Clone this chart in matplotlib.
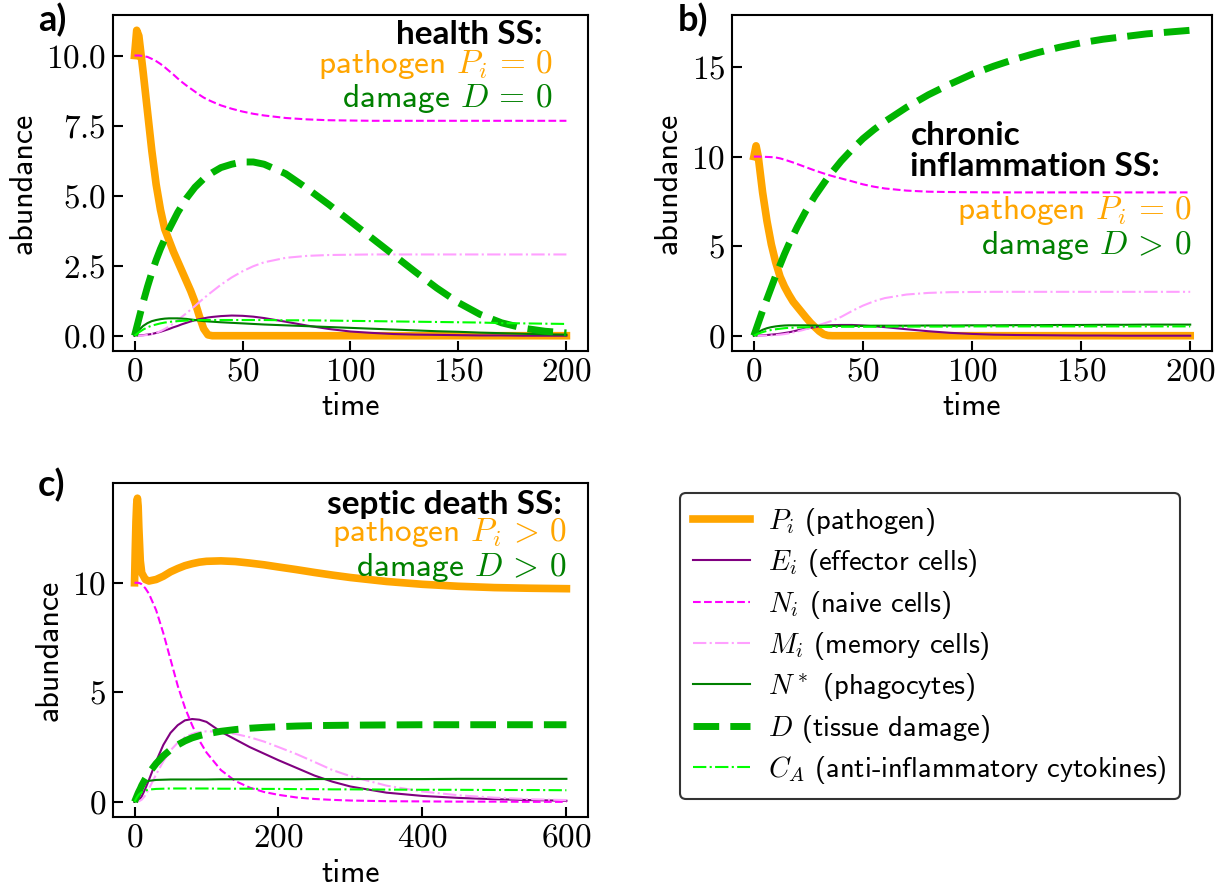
import matplotlib
matplotlib.use("Agg")
import matplotlib.pyplot as plt
from matplotlib.ticker import FuncFormatter

plt.rcParams['font.family'] = ['cmss10', 'DejaVu Sans']
plt.rcParams['mathtext.fontset'] = 'cm'
plt.rcParams['axes.unicode_minus'] = False

# ---------------- panel a: health steady state ----------------
t_a = [0, 1, 2, 4, 6, 8, 10, 12, 14, 16, 18, 20, 22, 24, 26, 28, 30, 32, 34, 36,
       40, 45, 50, 55, 60, 70, 80, 90, 100, 110, 120, 130, 140, 150, 160, 170, 180, 190, 200]
P_a = [10, 10.9, 10.7, 9.4, 8.0, 6.6, 5.4, 4.5, 3.8, 3.4, 3.0, 2.65, 2.3, 1.95, 1.6, 1.2, 0.7, 0.25, 0.03, 0,
       0, 0, 0, 0, 0, 0, 0, 0, 0, 0, 0, 0, 0, 0, 0, 0, 0, 0, 0]
E_a = [0, 0, 0.01, 0.02, 0.04, 0.06, 0.1, 0.14, 0.19, 0.24, 0.3, 0.35, 0.41, 0.46, 0.51, 0.55, 0.59, 0.62, 0.65, 0.67,
       0.7, 0.72, 0.71, 0.68, 0.63, 0.5, 0.36, 0.24, 0.15, 0.1, 0.06, 0.04, 0.03, 0.02, 0.01, 0.01, 0, 0, 0]
N_a = [10, 10, 10, 9.98, 9.95, 9.88, 9.8, 9.7, 9.58, 9.45, 9.32, 9.18, 9.05, 8.93, 8.82, 8.71, 8.6, 8.5, 8.42, 8.35,
       8.22, 8.1, 8.0, 7.92, 7.86, 7.77, 7.72, 7.69, 7.68, 7.67, 7.67, 7.67, 7.67, 7.67, 7.67, 7.67, 7.67, 7.67, 7.67]
M_a = [0, 0, 0, 0.01, 0.03, 0.06, 0.1, 0.16, 0.24, 0.33, 0.44, 0.55, 0.68, 0.8, 0.93, 1.06, 1.2, 1.33, 1.46, 1.58,
       1.82, 2.08, 2.3, 2.48, 2.62, 2.78, 2.85, 2.88, 2.89, 2.9, 2.9, 2.9, 2.9, 2.9, 2.9, 2.9, 2.9, 2.9, 2.9]
Nstar_a = [0, 0.1, 0.2, 0.35, 0.45, 0.52, 0.56, 0.59, 0.61, 0.62, 0.62, 0.62, 0.61, 0.6, 0.58, 0.56, 0.54, 0.52, 0.51, 0.5,
           0.48, 0.46, 0.44, 0.42, 0.4, 0.37, 0.34, 0.31, 0.28, 0.25, 0.22, 0.19, 0.16, 0.14, 0.11, 0.09, 0.07, 0.05, 0.04]
D_a = [0, 0.3, 0.6, 1.2, 1.75, 2.25, 2.7, 3.1, 3.45, 3.8, 4.1, 4.4, 4.65, 4.9, 5.1, 5.3, 5.45, 5.6, 5.72, 5.82,
       6.0, 6.12, 6.2, 6.2, 6.12, 5.78, 5.25, 4.68, 4.08, 3.48, 2.88, 2.28, 1.7, 1.18, 0.76, 0.46, 0.27, 0.16, 0.1]
CA_a = [0, 0.06, 0.12, 0.22, 0.3, 0.36, 0.4, 0.44, 0.47, 0.49, 0.51, 0.52, 0.53, 0.54, 0.55, 0.55, 0.56, 0.56, 0.56, 0.56,
        0.56, 0.56, 0.56, 0.56, 0.56, 0.55, 0.55, 0.54, 0.53, 0.52, 0.51, 0.5, 0.49, 0.48, 0.47, 0.45, 0.44, 0.43, 0.42]

# ---------------- panel b: chronic inflammation ----------------
t_b = t_a
P_b = [10, 10.6, 10.0, 8.0, 6.4, 5.1, 4.1, 3.3, 2.75, 2.3, 1.9, 1.6, 1.3, 1.0, 0.72, 0.48, 0.25, 0.08, 0.01, 0,
       0, 0, 0, 0, 0, 0, 0, 0, 0, 0, 0, 0, 0, 0, 0, 0, 0, 0, 0]
E_b = [0, 0, 0.01, 0.02, 0.04, 0.06, 0.08, 0.11, 0.15, 0.19, 0.24, 0.3, 0.35, 0.4, 0.44, 0.48, 0.52, 0.55, 0.57, 0.59,
       0.6, 0.6, 0.57, 0.53, 0.48, 0.36, 0.25, 0.16, 0.1, 0.06, 0.04, 0.03, 0.02, 0.01, 0.01, 0, 0, 0, 0]
N_b = [10, 10, 10, 9.99, 9.98, 9.97, 9.95, 9.9, 9.83, 9.75, 9.67, 9.58, 9.49, 9.4, 9.31, 9.22, 9.14, 9.06, 8.98, 8.91,
       8.78, 8.62, 8.45, 8.32, 8.22, 8.1, 8.04, 8.02, 8.01, 8.0, 8.0, 8.0, 8.0, 8.0, 8.0, 8.0, 8.0, 8.0, 8.0]
M_b = [0, 0, 0, 0, 0.01, 0.02, 0.04, 0.06, 0.09, 0.13, 0.18, 0.24, 0.3, 0.37, 0.44, 0.52, 0.6, 0.68, 0.76, 0.84,
       1.05, 1.38, 1.68, 1.92, 2.1, 2.3, 2.39, 2.43, 2.44, 2.45, 2.45, 2.45, 2.45, 2.45, 2.45, 2.45, 2.45, 2.45, 2.45]
Nstar_b = [0, 0.1, 0.2, 0.33, 0.42, 0.48, 0.52, 0.55, 0.57, 0.58, 0.58, 0.58, 0.58, 0.58, 0.57, 0.57, 0.56, 0.56, 0.56, 0.55,
           0.55, 0.55, 0.55, 0.56, 0.56, 0.56, 0.57, 0.57, 0.58, 0.58, 0.59, 0.59, 0.6, 0.6, 0.61, 0.61, 0.62, 0.62, 0.62]
D_b = [0, 0.35, 0.7, 1.4, 2.05, 2.7, 3.35, 3.95, 4.55, 5.1, 5.6, 6.1, 6.55, 7.0, 7.4, 7.8, 8.15, 8.5, 8.85, 9.15,
       9.75, 10.4, 11.0, 11.5, 11.95, 12.75, 13.45, 14.05, 14.6, 15.05, 15.45, 15.8, 16.1, 16.35, 16.55, 16.7, 16.85, 16.95, 17.05]
CA_b = [0, 0.06, 0.12, 0.2, 0.27, 0.32, 0.36, 0.39, 0.42, 0.44, 0.45, 0.46, 0.47, 0.47, 0.48, 0.48, 0.48, 0.49, 0.49, 0.49,
        0.5, 0.5, 0.5, 0.5, 0.51, 0.51, 0.51, 0.51, 0.52, 0.52, 0.52, 0.52, 0.52, 0.52, 0.52, 0.52, 0.52, 0.52, 0.52]

# ---------------- panel c: septic death ----------------
t_c = [0, 1, 2, 3, 4, 5, 6, 8, 10, 15, 20, 30, 40, 50, 60, 70, 80, 90, 100, 120, 140, 160, 180, 200,
       225, 250, 275, 300, 350, 400, 450, 500, 550, 600]
P_c = [10, 11.5, 12.8, 13.6, 13.86, 13.5, 12.5, 11.0, 10.45, 10.15, 10.08, 10.15, 10.3, 10.5, 10.65, 10.78, 10.87, 10.94, 10.98,
       11.0, 10.97, 10.9, 10.82, 10.72, 10.6, 10.47, 10.35, 10.24, 10.06, 9.93, 9.84, 9.78, 9.75, 9.73]
E_c = [0, 0, 0.01, 0.02, 0.03, 0.05, 0.07, 0.15, 0.25, 0.6, 1.0, 1.85, 2.6, 3.15, 3.5, 3.72, 3.78, 3.75, 3.65,
       3.2, 2.85, 2.5, 2.2, 1.9, 1.55, 1.2, 0.92, 0.7, 0.42, 0.27, 0.18, 0.12, 0.08, 0.05]
N_c = [10, 10, 10, 10, 10, 10, 9.99, 9.97, 9.93, 9.75, 9.5, 8.75, 7.7, 6.5, 5.3, 4.3, 3.5, 2.8, 2.25,
       1.45, 0.95, 0.65, 0.45, 0.32, 0.2, 0.13, 0.09, 0.06, 0.03, 0.02, 0.01, 0.01, 0, 0]
M_c = [0, 0, 0, 0, 0.01, 0.02, 0.03, 0.06, 0.1, 0.3, 0.6, 1.25, 1.85, 2.35, 2.7, 2.95, 3.1, 3.18, 3.22,
       3.2, 3.1, 2.95, 2.75, 2.5, 2.18, 1.82, 1.45, 1.17, 0.74, 0.47, 0.3, 0.19, 0.12, 0.08]
Nstar_c = [0, 0.12, 0.23, 0.33, 0.42, 0.5, 0.57, 0.68, 0.77, 0.9, 0.96, 1.0, 1.01, 1.02, 1.02, 1.02, 1.02, 1.02, 1.02,
           1.03, 1.03, 1.03, 1.03, 1.03, 1.03, 1.04, 1.04, 1.04, 1.04, 1.04, 1.05, 1.05, 1.05, 1.05]
D_c = [0, 0.08, 0.16, 0.24, 0.32, 0.4, 0.47, 0.6, 0.75, 1.05, 1.32, 1.75, 2.1, 2.38, 2.6, 2.78, 2.92, 3.02, 3.1,
       3.22, 3.3, 3.36, 3.4, 3.43, 3.46, 3.48, 3.49, 3.5, 3.51, 3.52, 3.52, 3.52, 3.52, 3.52]
CA_c = [0, 0.07, 0.13, 0.19, 0.24, 0.29, 0.33, 0.39, 0.44, 0.52, 0.56, 0.59, 0.6, 0.61, 0.61, 0.61, 0.61, 0.61, 0.61,
        0.6, 0.6, 0.6, 0.59, 0.59, 0.58, 0.58, 0.57, 0.57, 0.56, 0.55, 0.55, 0.54, 0.54, 0.53]

labels = [r'$P_i$ (pathogen)', r'$E_i$ (effector cells)', r'$N_i$ (naive cells)',
          r'$M_i$ (memory cells)', r'$N^*$ (phagocytes)', r'$D$ (tissue damage)',
          r'$C_A$ (anti-inflammatory cytokines)']
styles = [dict(color='orange', lw=5.5, ls='-'),
          dict(color='purple', lw=1.5, ls='-'),
          dict(color='magenta', lw=1.5, ls='--'),
          dict(color='#ffa0ff', lw=1.5, ls='-.'),
          dict(color='green', lw=1.5, ls='-'),
          dict(color='#00b400', lw=5, ls='--'),
          dict(color='lime', lw=1.5, ls='-.')]

FS = 23
TICK_FS = 24


def draw_panel(ax, t, series, yfmt, xticks, yticks):
    handles = []
    for y, lab, st in zip(series, labels, styles):
        h, = ax.plot(t, y, label=lab, **st)
        handles.append(h)
    ax.set_xticks(xticks)
    ax.set_yticks(yticks)
    ax.xaxis.set_major_formatter(FuncFormatter(lambda v, p: f'${v:.0f}$'))
    ax.yaxis.set_major_formatter(FuncFormatter(lambda v, p: yfmt.format(v)))
    ax.tick_params(direction='in', length=7, width=1.5, labelsize=TICK_FS, pad=5)
    for s in ax.spines.values():
        s.set_linewidth(1.5)
    ax.set_xlabel('time', fontsize=FS, labelpad=4)
    ax.set_ylabel('abundance', fontsize=FS, labelpad=6)
    return handles


def state_text(ax, x, ys, title, pcond, dcond):
    ax.text(x[0], ys[0], title, transform=ax.transAxes, ha='right', va='center',
            fontsize=24, fontweight='bold', family='Lato', multialignment='left', linespacing=1.1)
    ax.text(x[1], ys[1], 'pathogen ' + pcond, transform=ax.transAxes, ha='right', va='center',
            fontsize=24, color='orange')
    ax.text(x[1], ys[2], 'damage ' + dcond, transform=ax.transAxes, ha='right', va='center',
            fontsize=24, color='green')


fig = plt.figure(figsize=(12.25, 8.94), dpi=100)
ax_a = fig.add_axes([0.0922, 0.6074, 0.3878, 0.3758])
ax_b = fig.add_axes([0.5976, 0.6074, 0.3918, 0.3758])
ax_c = fig.add_axes([0.0922, 0.0861, 0.3878, 0.3736])

handles = draw_panel(ax_a, t_a, [P_a, E_a, N_a, M_a, Nstar_a, D_a, CA_a], '${:.1f}$',
                     [0, 50, 100, 150, 200], [0, 2.5, 5, 7.5, 10])
draw_panel(ax_b, t_b, [P_b, E_b, N_b, M_b, Nstar_b, D_b, CA_b], '${:.0f}$',
           [0, 50, 100, 150, 200], [0, 5, 10, 15])
draw_panel(ax_c, t_c, [P_c, E_c, N_c, M_c, Nstar_c, D_c, CA_c], '${:.0f}$',
           [0, 200, 400, 600], [0, 5, 10])

state_text(ax_a, (0.905, 0.926), (0.941, 0.852, 0.752), 'health SS:', r'$P_i\,=\,0$', r'$D\,=\,0$')
state_text(ax_b, (0.892, 0.958), (0.595, 0.418, 0.314), 'chronic\ninflammation SS:',
           r'$P_i\,=\,0$', r'$D\,>\,0$')
state_text(ax_c, (0.945, 0.955), (0.937, 0.852, 0.748), 'septic death SS:', r'$P_i\,>\,0$', r'$D\,>\,0$')

for lab, x, y in [('a)', 0.031, 0.997), ('b)', 0.553, 0.997), ('c)', 0.031, 0.477)]:
    fig.text(x, y, lab, fontsize=26, fontweight='bold', family='Lato', va='top', ha='left')

leg = fig.legend(handles, labels, loc='upper left', bbox_to_anchor=(680 / 1225, 1 - 493 / 894),
                 borderaxespad=0, fontsize=20.5, handlelength=2.0, handletextpad=0.65,
                 labelspacing=0.33, borderpad=0.45, fancybox=True, framealpha=1)
leg.get_frame().set_edgecolor('#333333')
leg.get_frame().set_linewidth(1.5)

fig.savefig('out.png', dpi=100)
